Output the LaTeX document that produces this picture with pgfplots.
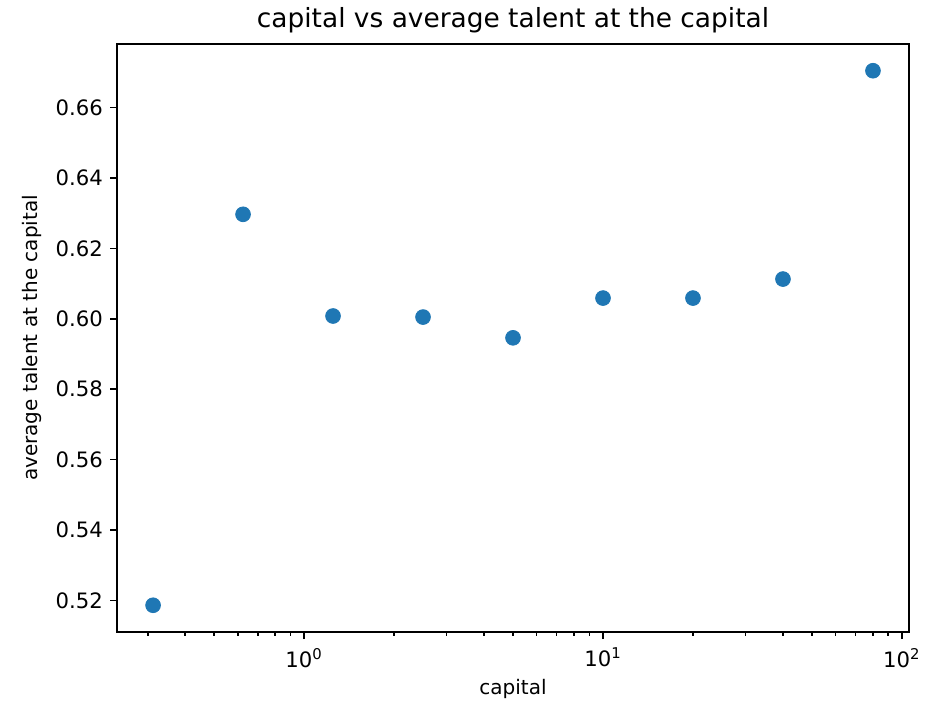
\documentclass[border=0pt]{standalone}
\usepackage{pgfplots}
\pgfplotsset{compat=1.18}
\usepackage{fontspec}
\setmainfont{DejaVu Sans}
\definecolor{mplblue}{HTML}{1F77B4}
\begin{document}
\begin{tikzpicture}
\begin{axis}[
  scale only axis,
  width=396pt, height=294pt,
  xmode=log,
  xmin=0.2367, xmax=105.6,
  ymin=0.5110, ymax=0.6781,
  axis line style={line width=0.8pt},
  tick style={line width=0.8pt, black},
  tick align=outside,
  tick pos=left,
  major tick length=3.5pt,
  minor tick length=2pt,
  xtick={1,10,100},
  xticklabels={10\textsuperscript{0},10\textsuperscript{1},10\textsuperscript{2}},
  minor xtick={0.3,0.4,0.5,0.6,0.7,0.8,0.9,2,3,4,5,6,7,8,9,20,30,40,50,60,70,80,90},
  ytick={0.52,0.54,0.56,0.58,0.60,0.62,0.64,0.66},
  yticklabel={\pgfmathprintnumber[fixed,fixed zerofill,precision=2,assume math mode=true]{\tick}},
  ticklabel style={font=\fontsize{10.6}{12}\selectfont},
  xticklabel style={yshift=-1pt},
  title={capital vs average talent at the capital},
  title style={font=\fontsize{13.2}{15}\selectfont, yshift=-4pt},
  xlabel={capital},
  ylabel={average talent at the capital},
  label style={font=\fontsize{10.9}{13}\selectfont},
  every axis x label/.style={at={(0.5,0)}, anchor=north, yshift=-20pt},
  every axis y label/.style={at={(0,0.5)}, rotate=90, anchor=south, yshift=34pt},
]
\addplot[only marks, mark=*, mark size=3.7pt, mplblue, mark options={fill=mplblue, draw=mplblue}] coordinates {
  (0.3125,0.5186)
  (0.625,0.6297)
  (1.25,0.6008)
  (2.5,0.6005)
  (5,0.5946)
  (10,0.6059)
  (20,0.6059)
  (40,0.6113)
  (80,0.6705)
};
\end{axis}
\path ([xshift=-58.5pt,yshift=-42pt]current axis.south west) ([xshift=13.5pt,yshift=22pt]current axis.north east);
\end{tikzpicture}
\end{document}
